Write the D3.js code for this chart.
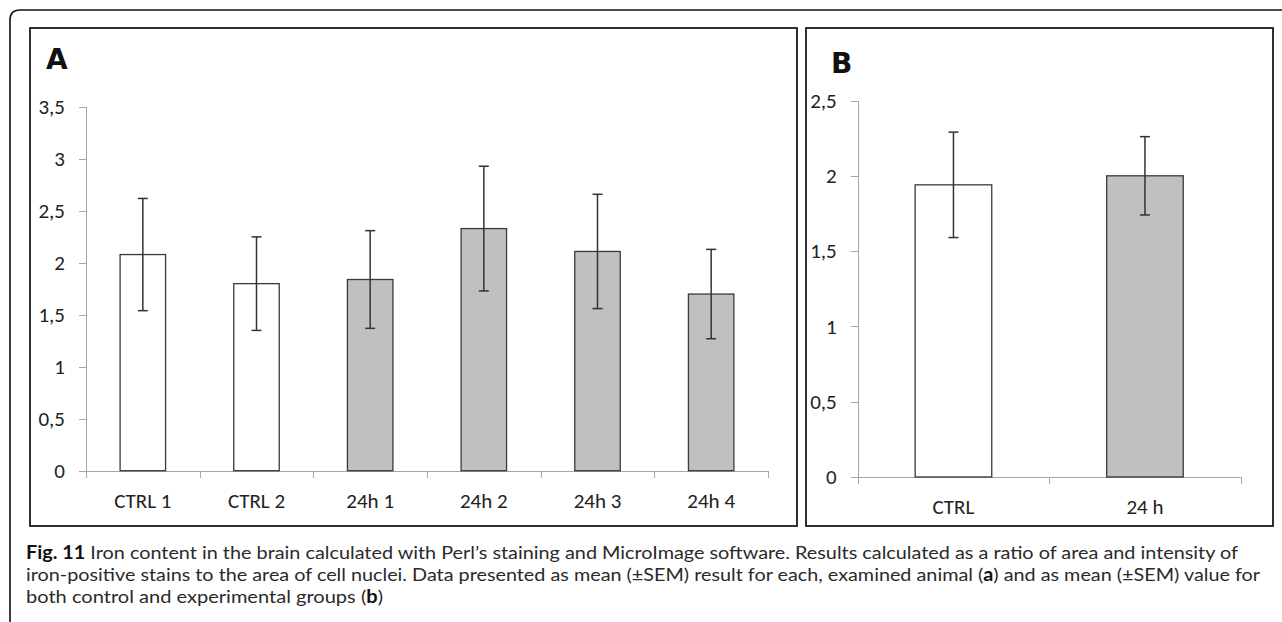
<!DOCTYPE html>
<html>
<head>
<meta charset="utf-8">
<script src="https://cdn.jsdelivr.net/npm/d3@7"></script>
<style>
  body { margin: 0; background: #fff; }
  .tick text { font-family: Carlito, Lato, sans-serif; font-size: 21px; fill: #222; }
  .axis path, .axis line { stroke: #a6a6a6; stroke-width: 1px; shape-rendering: crispEdges; }
</style>
</head>
<body>
<div class="chart"></div>
<script>
// panel A: each animal
const catsA = ['CTRL 1', 'CTRL 2', '24h 1', '24h 2', '24h 3', '24h 4'];
const meanA = [2.08, 1.80, 1.84, 2.33, 2.11, 1.70];
const semA  = [0.54, 0.45, 0.47, 0.60, 0.55, 0.43];
const groupA = ['ctrl', 'ctrl', 'exp', 'exp', 'exp', 'exp'];
const ticksA = [0, 0.5, 1, 1.5, 2, 2.5, 3, 3.5];

// panel B: group means
const catsB = ['CTRL', '24 h'];
const meanB = [1.94, 2.00];
const semB  = [0.35, 0.26];
const groupB = ['ctrl', 'exp'];
const ticksB = [0, 0.5, 1, 1.5, 2, 2.5];

const fills = { ctrl: '#ffffff', exp: '#c0c0c0' };

const width = 1282, height = 622;
const svg = d3.select('.chart').append('svg')
  .attr('width', width)
  .attr('height', height);

// outer figure frame (top + left with rounded corner)
svg.append('path')
  .attr('d', 'M1282,10 L20,10 Q10,10 10,20 L10,622')
  .attr('fill', 'none')
  .attr('stroke', '#111')
  .attr('stroke-width', 1.6);

// panel boxes
svg.append('rect').attr('x', 30).attr('y', 28).attr('width', 767).attr('height', 498)
  .attr('fill', 'none').attr('stroke', '#1a1a1a').attr('stroke-width', 1.8);
svg.append('rect').attr('x', 806).attr('y', 28).attr('width', 467).attr('height', 498)
  .attr('fill', 'none').attr('stroke', '#1a1a1a').attr('stroke-width', 1.8);

function drawPanel(cats, means, sems, groups, ticks, box) {
  const g = svg.append('g');
  const y = d3.scaleLinear().domain([0, d3.max(ticks)]).range([box.y0, box.y1]);
  const xCat = d3.scaleBand().domain(cats).range([box.x0, box.x1]);
  const xBar = d3.scaleBand().domain(cats).range([box.x0, box.x1])
    .paddingInner(0.6).paddingOuter(0.3);
  const xEdge = d3.scaleLinear().domain([0, cats.length]).range([box.x0, box.x1]);

  // y axis
  g.append('g').attr('class', 'axis')
    .attr('transform', `translate(${box.x0},0)`)
    .call(d3.axisLeft(y).tickValues(ticks).tickSize(7).tickPadding(14)
      .tickFormat(d => String(d).replace('.', ',')));

  // x axis: boundary ticks
  g.append('g').attr('class', 'axis')
    .attr('transform', `translate(0,${box.y0})`)
    .call(d3.axisBottom(xEdge).ticks(cats.length).tickSize(7).tickFormat(''));

  // x axis: category labels
  const lab = g.append('g').attr('class', 'axis')
    .attr('transform', `translate(0,${box.y0})`)
    .call(d3.axisBottom(xCat).tickSize(0).tickPadding(box.labPad));
  lab.select('.domain').remove();

  // bars
  g.selectAll('rect.bar').data(cats).enter().append('rect')
    .attr('class', 'bar')
    .attr('x', d => xBar(d))
    .attr('width', xBar.bandwidth())
    .attr('y', (d, i) => y(means[i]))
    .attr('height', (d, i) => y(0) - y(means[i]))
    .attr('fill', (d, i) => fills[groups[i]])
    .attr('stroke', '#3a3a3a')
    .attr('stroke-width', 1.3);

  // error bars
  const cap = 5;
  const eb = g.selectAll('g.err').data(cats).enter().append('g')
    .attr('class', 'err')
    .attr('stroke', '#333')
    .attr('stroke-width', 1.5);
  eb.append('line')
    .attr('x1', d => xCat(d) + xCat.bandwidth() / 2)
    .attr('x2', d => xCat(d) + xCat.bandwidth() / 2)
    .attr('y1', (d, i) => y(means[i] + sems[i]))
    .attr('y2', (d, i) => y(means[i] - sems[i]));
  eb.append('line')
    .attr('x1', d => xCat(d) + xCat.bandwidth() / 2 - cap)
    .attr('x2', d => xCat(d) + xCat.bandwidth() / 2 + cap)
    .attr('y1', (d, i) => y(means[i] + sems[i]))
    .attr('y2', (d, i) => y(means[i] + sems[i]));
  eb.append('line')
    .attr('x1', d => xCat(d) + xCat.bandwidth() / 2 - cap)
    .attr('x2', d => xCat(d) + xCat.bandwidth() / 2 + cap)
    .attr('y1', (d, i) => y(means[i] - sems[i]))
    .attr('y2', (d, i) => y(means[i] - sems[i]));

  // panel letter
  g.append('text')
    .attr('x', box.lx).attr('y', box.ly)
    .attr('font-family', 'DejaVu Sans, sans-serif')
    .attr('font-weight', 'bold')
    .attr('font-size', '28px')
    .attr('fill', '#111')
    .text(box.letter);
}

drawPanel(catsA, meanA, semA, groupA, ticksA,
  { x0: 86, x1: 768, y0: 470.7, y1: 107, labPad: 22, letter: 'A', lx: 46, ly: 69 });
drawPanel(catsB, meanB, semB, groupB, ticksB,
  { x0: 857.7, x1: 1240.7, y0: 477, y1: 100.5, labPad: 22, letter: 'B', lx: 831, ly: 73 });

// caption
const cap = svg.append('g')
  .attr('font-family', 'Lato, "Open Sans", sans-serif')
  .attr('font-size', '18px')
  .attr('fill', '#2a2a2a');

const l1 = cap.append('text').attr('x', 26).attr('y', 559)
  .attr('textLength', 1212).attr('lengthAdjust', 'spacingAndGlyphs');
l1.append('tspan').attr('font-weight', 'bold').attr('fill', '#111').text('Fig. 11');
l1.append('tspan').text(' Iron content in the brain calculated with Perl\u2019s staining and MicroImage software. Results calculated as a ratio of area and intensity of');

const l2 = cap.append('text').attr('x', 26).attr('y', 581)
  .attr('textLength', 1234).attr('lengthAdjust', 'spacingAndGlyphs');
l2.append('tspan').text('iron-positive stains to the area of cell nuclei. Data presented as mean (\u00b1SEM) result for each, examined animal (');
l2.append('tspan').attr('font-weight', 'bold').attr('fill', '#111').text('a');
l2.append('tspan').text(') and as mean (\u00b1SEM) value for');

const l3 = cap.append('text').attr('x', 26).attr('y', 603)
  .attr('textLength', 357).attr('lengthAdjust', 'spacingAndGlyphs');
l3.append('tspan').text('both control and experimental groups (');
l3.append('tspan').attr('font-weight', 'bold').attr('fill', '#111').text('b');
l3.append('tspan').text(')');
</script>
</body>
</html>
